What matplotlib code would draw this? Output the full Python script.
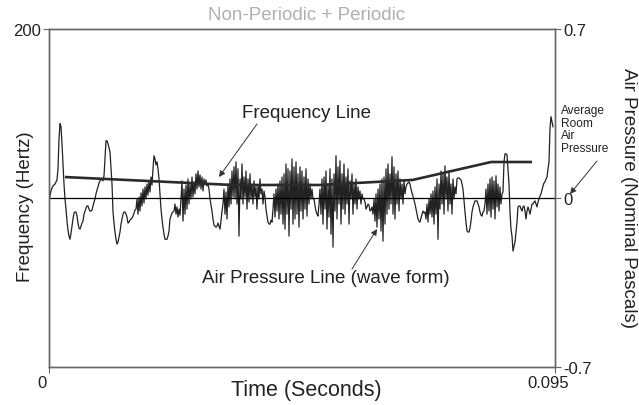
import matplotlib
matplotlib.use("Agg")
import matplotlib.pyplot as plt
import matplotlib.transforms as mtransforms
import numpy as np

plt.rcParams['font.family'] = ['Liberation Sans', 'DejaVu Sans']

# waveform traced at a fixed sample step (seconds)
SAMPLE_PERIOD = 0.095 / 506

# air pressure waveform, in millipascals
pressure_mpa = [
    # opening periodic cycles
    -12, 8, 29, 42, 50, 54, 58, 66, 75, 121,
    245, 308, 295, 225, 141, 58, -4, -46, -96, -133,
    -158, -171, -146, -116, -87, -62, -58, -58, -75, -104,
    -125, -129, -116, -104, -96, -67, -54, -42, -33, -33,
    -46, -54, -54, -50, -33, -17, -4, 17, 33, 46,
    62, 71, 75, 79, 71, 92, 162, 237, 237, 225,
    208, 191, 121, 58, -58, -104, -141, -171, -191, -183,
    -162, -141, -108, -87, -67, -58, -58, -67, -79, -104,
    -100, -92, -87, -83, -75, -62, -50, -46,
    # third cycle with noise on the rise
    -4, -67, 4, -54, 21, -33, 37, -21, 46, -4,
    58, 12, 71, 25, 87, 54, 121, 175, 162, 137,
    150, 121, 79, 17, -46, -87, -121, -150, -171, -171,
    -171, -158, -137, -87, -75, -62, -58, -54, -25,
    # first noisy burst
    -67, -37, -79, -46, -71, -4, 71, -96, 37, -67,
    54, -46, 79, -25, 58, -4, 87, 4, 67, 17,
    100, 37, 112, 46, 96, 37, 87, 29, 79, 54,
    75, 50, 58,
    37, -4, -29, -54, -87, -112, -116, -121, -116, -104, -116, -129, -96, -54,
    # second noisy burst
    -25, 37, -67, 25, -87, 58, -37, 79, -25, 112,
    4, 129, -4, 150, -25, 121, -158, 79, -4, 141,
    -25, 87, 4, 112, -46, 79, -17, 100, -4, 58,
    -25, 71, 4, 46, -46, 54, -4, 79, 17, 37,
    -25, 29, 4, -46, -75, -100, -108, -108, -92, -100,
    # third noisy burst
    -46, 17, -79, 37, -54, 58, -87, 71, -67, 87,
    -108, 100, -129, 141, -67, 121, -158, 112, -46, 162,
    -108, 129, -87, 150, -67, 100, -121, 129, -54, 112,
    -87, 87, -46, 121, -75, 79, -25, 58, -4, 37,
    -4, -4, -33, -54, -67, -75,
    # fourth noisy burst
    -25, 37, -67, 79, -108, 87, -46, 112, -129, 58,
    -79, 121, -150, 79, -204, 100, -54, 175, -87, 129,
    -25, 154, -108, 100, -46, 141, -67, 87, -25, 121,
    -108, 71, -4, 100, -67, 58, -25, 79, -46, 46,
    -4, 29, -25, 17, -4, -4, -17, -46, -37, -25,
    -29, -54, -50, -37,
    # fifth noisy burst
    -67, -4, -96, 17, -121, 37, -87, 58, -137, 79,
    -179, 87, -108, 121, -67, 141, -46, 100, -25, 171,
    -67, 129, -87, 100, -25, 112, -54, 79, -4, 58,
    -25, 71, 17, 46, 58, 62, 67, 58, 37, 21,
    8, -8, -25, -46, -67, -87, -96, -100, -83, -67,
    -54, -62, -58,
    # sixth noisy burst
    -87, -25, -100, -4, -67, 17, -79, 29, -108, 46,
    -67, 79, -171, 58, -46, 112, -25, 100, -67, 133,
    -4, 87, -54, 112, -25, 58, -67, 79, -4, 46,
    17, 79, 83, 83, 79, 75, 58, 37, -12, -58,
    -100, -137, -141, -141, -125, -96, -58, -37, -25, -12,
    -12, -12, -25, -37, -58, -71, -75, -58, -54,
    # last burst and closing cycles
    -25, 37, -67, 58, -54, 79, -79, 87, -46, 71,
    -87, 92, -37, 58, -54, 46, -25, 17, 25, 150,
    183, 183, 179, 121, 58, -58, -129, -158, -220, -200,
    -183, -141, -100, -37, -33, -33, -46, -54, -37, -33,
    -54, -87, -54, -37, -50, -67, -46, -25, -25, -17,
    -12, -25, -37, -17, -4, 8, 17, 33, 50, 62,
    67, 79, 87, 121, 150, 287, 337, 316, 295,
]

# frequency (pitch) line
freq_time_ms = [3.0, 34.5, 50.9, 68.3, 83.0, 90.7]
freq_hz = [112.4, 107.7, 107.7, 110.7, 121.3, 121.3]

time_ticks = [0, 0.095]
time_ticklabels = ['0', '0.095']
freq_ticks = [200]
pressure_ticks = [-0.7, 0, 0.7]
pressure_ticklabels = ['-0.7', '0', '0.7']

W, H = 639, 406
fig = plt.figure(figsize=(W / 100, H / 100), dpi=100)
ax = fig.add_axes([49 / W, 1 - 368 / H, 506 / W, 338 / H])
ax2 = ax.twinx()

t = np.arange(len(pressure_mpa)) * SAMPLE_PERIOD
ax2.plot(t, np.array(pressure_mpa) / 1000.0, color='#222222', lw=0.9)
ax2.axhline(0, color='black', lw=0.9)
ax2.set_ylim(-0.7, 0.7)

ax.plot(np.array(freq_time_ms) / 1000.0, freq_hz, color='#2b2b2b', lw=1.9,
        solid_capstyle='butt')
ax.set_zorder(ax2.get_zorder() + 1)
ax.patch.set_visible(False)
ax.set_xlim(0, 0.095)
ax.set_ylim(0, 200)

spine_c = '#666666'
for a in (ax, ax2):
    for s in a.spines.values():
        s.set_color(spine_c)
        s.set_linewidth(1.0)

ax.set_xticks(time_ticks)
ax.set_xticklabels(time_ticklabels)
ax.set_yticks(freq_ticks)
ax.set_yticklabels(['200'])
ax2.set_yticks(pressure_ticks)
ax2.set_yticklabels(pressure_ticklabels)
for a in (ax, ax2):
    a.tick_params(length=4, width=0.8, color=spine_c, labelsize=12,
                  labelcolor='#222222', pad=2)

shift = mtransforms.ScaledTranslation(-7 / 100, 0, fig.dpi_scale_trans)
for lbl in ax.get_xticklabels():
    lbl.set_transform(lbl.get_transform() + shift)

def fx(px):
    return px / W

def fy(py):
    return 1 - py / H

fig.text(fx(307), fy(15), 'Non-Periodic + Periodic', color='#b0b0b0',
         fontsize=13.5, ha='center', va='center')
fig.text(fx(26), fy(207), 'Frequency (Hertz)', rotation=90, fontsize=13.5,
         ha='center', va='center', color='#222222')
fig.text(fx(306), fy(391), 'Time (Seconds)', fontsize=15.5,
         ha='center', va='center', color='#222222')
fig.text(fx(628), fy(198), 'Air Pressure (Nominal Pascals)', rotation=-90,
         fontsize=13.5, ha='center', va='center', color='#222222')

arrow = dict(arrowstyle='-|>', lw=0.7, color='#333333', mutation_scale=9,
             shrinkA=0, shrinkB=0)
fig.text(fx(307), fy(114), 'Frequency Line', fontsize=13.5,
         ha='center', va='center', color='#222222')
ax.annotate('', xy=(fx(219), fy(178)), xycoords='figure fraction',
            xytext=(fx(257), fy(125)), textcoords='figure fraction',
            arrowprops=arrow)

fig.text(fx(326), fy(279), 'Air Pressure Line (wave form)', fontsize=13.5,
         ha='center', va='center', color='#222222')
ax.annotate('', xy=(fx(377), fy(230)), xycoords='figure fraction',
            xytext=(fx(352), fy(270)), textcoords='figure fraction',
            arrowprops=arrow)

fig.text(fx(561), fy(130), 'Average\nRoom\nAir\nPressure', fontsize=8.6,
         ha='left', va='center', linespacing=1.05, color='#222222')
ax.annotate('', xy=(fx(570), fy(195)), xycoords='figure fraction',
            xytext=(fx(597), fy(162)), textcoords='figure fraction',
            arrowprops=arrow, annotation_clip=False)

fig.savefig('out.png', dpi=100, facecolor='white')
